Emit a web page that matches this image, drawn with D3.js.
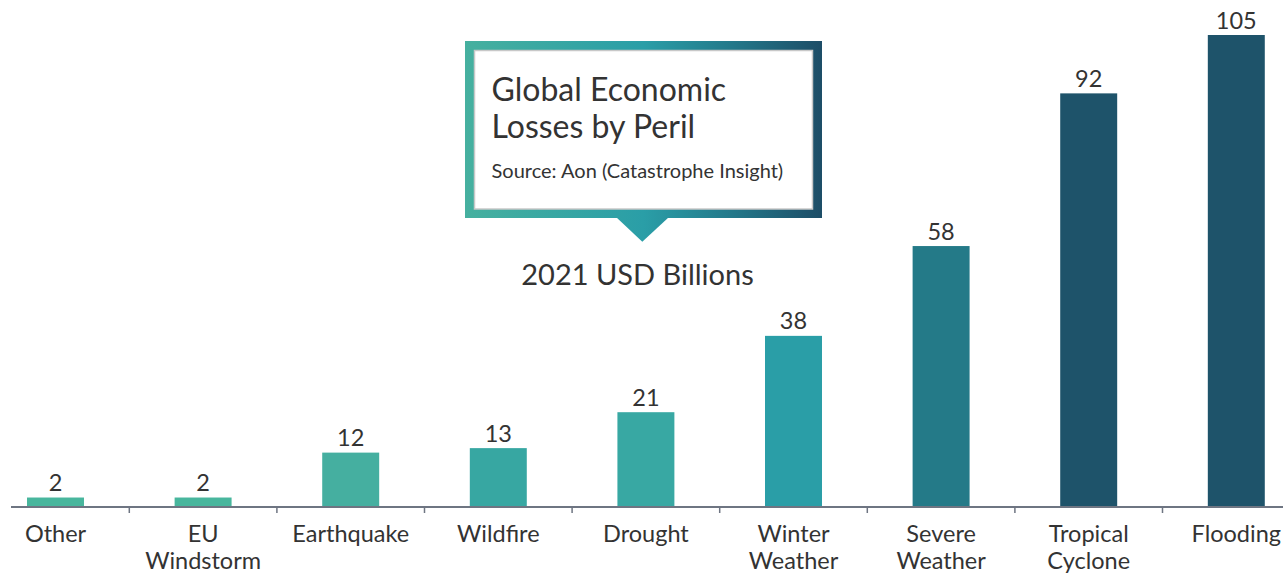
<!DOCTYPE html>
<html>
<head>
<meta charset="utf-8">
<script src="https://cdn.jsdelivr.net/npm/d3@7"></script>
<style>
  html, body { margin: 0; padding: 0; background: #fff; }
  svg { display: block; font-family: Lato, "Open Sans", sans-serif; }
</style>
</head>
<body>
<svg id="chart" width="1284" height="573"></svg>
<script>
const categories = ["Other", "EU\nWindstorm", "Earthquake", "Wildfire", "Drought", "Winter\nWeather", "Severe\nWeather", "Tropical\nCyclone", "Flooding"];
const values = [2, 2, 12, 13, 21, 38, 58, 92, 105];
const barColors = ["#48b69d", "#48b69d", "#45afa0", "#37a7a2", "#38a8a3", "#2a9ea7", "#247a88", "#1e536a", "#1e536a"];
const titleLines = ["Global Economic", "Losses by Peril"];
const sourceText = "Source: Aon (Catastrophe Insight)";
const unitText = "2021 USD Billions";

const W = 1284, H = 573;
const svg = d3.select("#chart");
const textColor = "#333333";
const axisColor = "#6e7582";

const x = d3.scaleBand()
  .domain(categories)
  .range([-18.3, 1310.1])
  .paddingInner(0.614)
  .paddingOuter(0.307);

const baseY = 506.5;
const y = d3.scaleLinear().domain([0, 105]).range([baseY, 35]);

// bars
svg.append("g").selectAll("rect")
  .data(values)
  .join("rect")
  .attr("x", (d, i) => x(categories[i]))
  .attr("y", d => y(d))
  .attr("width", x.bandwidth())
  .attr("height", d => y(0) - y(d))
  .attr("fill", (d, i) => barColors[i]);

// value labels
svg.append("g").selectAll("text")
  .data(values)
  .join("text")
  .attr("x", (d, i) => x(categories[i]) + x.bandwidth() / 2)
  .attr("y", d => y(d) - 6.5)
  .attr("text-anchor", "middle")
  .attr("fill", textColor)
  .style("font-size", "23.5px")
  .text(d => d);

// axis
const axisG = svg.append("g").attr("transform", `translate(0,${baseY + 0.5})`);
axisG.append("line")
  .attr("x1", 11).attr("x2", 1283)
  .attr("y1", 0).attr("y2", 0)
  .attr("stroke", axisColor).attr("stroke-width", 2);
const step = x.step();
axisG.selectAll("line.tick")
  .data(categories.slice(1))
  .join("line")
  .attr("class", "tick")
  .attr("x1", d => x(d) - (step - x.bandwidth()) / 2)
  .attr("x2", d => x(d) - (step - x.bandwidth()) / 2)
  .attr("y1", 0).attr("y2", 6)
  .attr("stroke", axisColor).attr("stroke-width", 1.5);

const labelG = axisG.selectAll("text.cat")
  .data(categories)
  .join("text")
  .attr("class", "cat")
  .attr("text-anchor", "middle")
  .attr("fill", textColor)
  .style("font-size", "23.5px")
  .attr("transform", d => `translate(${x(d) + x.bandwidth() / 2},0)`);
labelG.selectAll("tspan")
  .data(d => d.split("\n"))
  .join("tspan")
  .attr("x", 0)
  .attr("y", (d, i) => 35 + i * 26.5)
  .text(d => d);

// callout
const defs = svg.append("defs");
const grad = defs.append("linearGradient")
  .attr("id", "calloutGrad")
  .attr("gradientUnits", "userSpaceOnUse")
  .attr("x1", 465).attr("x2", 822).attr("y1", 0).attr("y2", 0);
grad.append("stop").attr("offset", "0%").attr("stop-color", "#46b09f");
grad.append("stop").attr("offset", "50%").attr("stop-color", "#2a9ea7");
grad.append("stop").attr("offset", "75%").attr("stop-color", "#23788a");
grad.append("stop").attr("offset", "100%").attr("stop-color", "#1d4d67");

const callout = svg.append("g");
callout.append("rect")
  .attr("x", 465).attr("y", 41).attr("width", 357).attr("height", 177)
  .attr("fill", "url(#calloutGrad)");
callout.append("path")
  .attr("d", "M616.5,217.5 L668.5,217.5 L642.3,241.7 Z")
  .attr("fill", "url(#calloutGrad)");
callout.append("rect")
  .attr("x", 474.5).attr("y", 50.5).attr("width", 338).attr("height", 158.5)
  .attr("fill", "#fff").attr("stroke", "#c8c8c8").attr("stroke-width", 1.5);

callout.selectAll("text.title")
  .data(titleLines)
  .join("text")
  .attr("class", "title")
  .attr("x", 491.5)
  .attr("y", (d, i) => 101 + i * 37)
  .attr("fill", textColor)
  .style("font-size", "32px")
  .text(d => d);
callout.append("text")
  .attr("x", 491.5).attr("y", 177.5)
  .attr("fill", textColor)
  .style("font-size", "20px")
  .text(sourceText);

svg.append("text")
  .attr("x", 637.5).attr("y", 284.5)
  .attr("text-anchor", "middle")
  .attr("fill", textColor)
  .style("font-size", "29px")
  .text(unitText);
</script>
</body>
</html>
